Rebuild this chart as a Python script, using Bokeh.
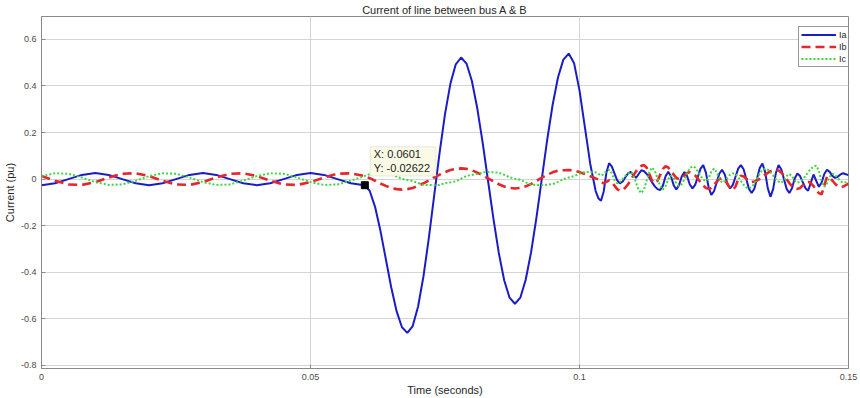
from bokeh.plotting import figure
from bokeh.models import (Range1d, FixedTicker, CustomJSTickFormatter, Legend,
                          LegendItem, BoxAnnotation, Label)
from bokeh.embed import file_html
from bokeh.resources import INLINE

# ---------------- data ----------------
# pre-fault: t = 0 .. 0.0575 s, step 0.0025 s
ia_pre = [-0.026, -0.018, 0.0, 0.018, 0.026, 0.018, 0.0, -0.018,
          -0.026, -0.018, 0.0, 0.018, 0.026, 0.018, 0.0, -0.018,
          -0.026, -0.018, 0.0, 0.018, 0.026, 0.018, 0.0, -0.018]
ib_pre = [0.013, -0.007, -0.023, -0.025, -0.013, 0.007, 0.023, 0.025,
          0.013, -0.007, -0.023, -0.025, -0.013, 0.007, 0.023, 0.025,
          0.013, -0.007, -0.023, -0.025, -0.013, 0.007, 0.023, 0.025]
ic_pre = [0.013, 0.025, 0.023, 0.007, -0.013, -0.025, -0.023, -0.007,
          0.013, 0.025, 0.023, 0.007, -0.013, -0.025, -0.023, -0.007,
          0.013, 0.025, 0.023, 0.007, -0.013, -0.025, -0.023, -0.007]

# fault: t = 0.060 .. 0.103 s, step 0.001 s
ia_fault = [-0.026, -0.050, -0.119, -0.222, -0.343, -0.464, -0.567, -0.636, -0.660, -0.631,
            -0.547, -0.417, -0.252, -0.069, 0.114, 0.279, 0.409, 0.493, 0.522, 0.496,
            0.421, 0.304, 0.157, -0.007, -0.170, -0.317, -0.434, -0.509, -0.535, -0.509,
            -0.432, -0.314, -0.165, 0.002, 0.169, 0.318, 0.436, 0.513, 0.539, 0.497,
            0.381, 0.223, 0.065, -0.051]
ib_fault = [0.013, 0.004, -0.007, -0.019, -0.029, -0.038, -0.043, -0.045, -0.043, -0.038,
            -0.029, -0.018, -0.006, 0.007, 0.019, 0.030, 0.039, 0.044, 0.046, 0.044,
            0.038, 0.028, 0.016, 0.003, -0.010, -0.022, -0.032, -0.038, -0.040, -0.038,
            -0.031, -0.021, -0.008, 0.006, 0.019, 0.029, 0.036, 0.038, 0.039, 0.036,
            0.030, 0.022, 0.012, 0.003]
ic_fault = [0.013, 0.021, 0.026, 0.025, 0.022, 0.020, 0.011, 0.001, -0.004, -0.008,
            -0.017, -0.025, -0.025, -0.026, -0.025, -0.017, -0.014, -0.010, 0.002, 0.014,
            0.018, 0.022, 0.029, 0.030, 0.029, 0.028, 0.018, 0.008, 0.002, -0.003,
            -0.014, -0.024, -0.025, -0.026, -0.024, -0.022, -0.012, 0.000, 0.007, 0.013,
            0.023, 0.031, 0.030, 0.029]

# post-fault: t = 0.1035 .. 0.150 s, step 0.0005 s
ia_post = [-0.082, -0.093, -0.053, 0.028, 0.068, 0.055, 0.025, -0.005, -0.018, -0.011,
           0.007, 0.024, 0.031, 0.018, 0.005, 0.022, 0.038, 0.034, 0.022, 0.005,
           -0.014, -0.031, -0.043, -0.047, -0.028, 0.012, 0.031, 0.012, -0.026, -0.045,
           -0.026, 0.011, 0.030, 0.013, -0.023, -0.040, -0.025, 0.010, 0.045, 0.060,
           0.028, -0.036, -0.068, -0.052, -0.014, 0.024, 0.040, 0.020, -0.020, -0.040,
           -0.025, 0.010, 0.045, 0.060, 0.042, 0.000, -0.042, -0.060, -0.041, 0.003,
           0.048, 0.067, 0.031, -0.040, -0.076, -0.042, 0.026, 0.060, 0.042, 0.000,
           -0.042, -0.060, -0.039, 0.003, 0.024, 0.013, -0.013, -0.039, -0.050, -0.015,
           0.020, -0.007, -0.033, -0.015, 0.022, 0.040, 0.031, 0.014, 0.005, 0.010,
           0.020, 0.025, 0.021, 0.017]
ib_post = [-0.002, -0.013, -0.018, -0.012, -0.005, -0.012, -0.028, -0.043, -0.050, -0.047,
           -0.037, -0.023, -0.005, 0.015, 0.033, 0.047, 0.057, 0.060, 0.049, 0.021,
           -0.007, -0.018, -0.007, 0.018, 0.044, 0.055, 0.050, 0.036, 0.019, 0.005,
           0.000, 0.004, 0.015, 0.026, 0.030, 0.026, 0.016, 0.002, -0.014, -0.028,
           -0.038, -0.042, -0.038, -0.026, -0.011, 0.000, 0.005, -0.003, -0.021, -0.039,
           -0.047, -0.032, 0.000, 0.015, 0.011, 0.002, -0.008, -0.012, -0.010, -0.006,
           0.001, 0.010, 0.019, 0.027, 0.034, 0.038, 0.040, 0.037, 0.028, 0.015,
           -0.001, -0.017, -0.030, -0.039, -0.042, -0.038, -0.027, -0.016, -0.012, -0.017,
           -0.030, -0.047, -0.060, -0.065, -0.028, 0.010, 0.006, -0.006, -0.020, -0.031,
           -0.035, -0.032, -0.026, -0.020]
ic_post = [0.022, 0.015, 0.021, 0.034, 0.040, 0.026, -0.004, -0.018, -0.013, -0.001,
           0.013, 0.025, 0.030, 0.017, -0.015, -0.047, -0.060, -0.044, -0.005, 0.034,
           0.050, 0.036, 0.003, -0.031, -0.045, -0.030, 0.000, 0.015, 0.004, -0.019,
           -0.030, -0.022, -0.001, 0.026, 0.047, 0.055, 0.049, 0.033, 0.014, -0.002,
           -0.008, 0.005, 0.032, 0.045, 0.030, 0.000, -0.015, -0.009, 0.005, 0.019,
           0.025, 0.021, 0.009, -0.008, -0.024, -0.036, -0.040, -0.034, -0.019, 0.003,
           0.024, 0.039, 0.045, 0.041, 0.030, 0.015, 0.000, -0.011, -0.015, -0.006,
           0.013, 0.022, 0.013, -0.006, -0.015, -0.011, -0.001, 0.013, 0.030, 0.044,
           0.054, 0.058, 0.035, -0.010, -0.033, -0.019, 0.010, 0.024, 0.018, 0.005,
           -0.009, -0.015, -0.013, -0.010]

# data tip
tip_x = 0.0601
tip_y = -0.02622

x_ticks = [0, 0.05, 0.1, 0.15]
y_ticks = [-0.8, -0.6, -0.4, -0.2, 0, 0.2, 0.4, 0.6]

# ---------------- sampling grids ----------------
t_pre = [round(i * 0.0025, 5) for i in range(len(ia_pre))]
t_fault = [round(0.060 + i * 0.001, 5) for i in range(len(ia_fault))]
t_post = [round(0.1035 + i * 0.0005, 5) for i in range(len(ia_post))]
t = t_pre + t_fault + t_post
ia = ia_pre + ia_fault + ia_post
ib = ib_pre + ib_fault + ib_post
ic = ic_pre + ic_fault + ic_post

FONT = "Liberation Sans"

p = figure(width=860, height=398,
           x_range=Range1d(0, 0.15), y_range=Range1d(-0.813, 0.698),
           output_backend="svg", toolbar_location=None,
           min_border_left=38, min_border_right=12,
           min_border_top=16, min_border_bottom=29)
p.background_fill_color = "white"
p.border_fill_color = "white"
p.outline_line_color = "#8a8a8a"
p.outline_line_width = 1

p.title.text = "Current of line between bus A & B"
p.title.align = "center"
p.title.text_font = FONT
p.title.text_font_size = "11px"
p.title.text_font_style = "normal"
p.title.text_color = "#262626"
p.title.standoff = 2

fmt = CustomJSTickFormatter(code="return Number(tick.toFixed(4)).toString();")
p.xaxis.ticker = FixedTicker(ticks=x_ticks)
p.yaxis.ticker = FixedTicker(ticks=y_ticks)
p.xaxis.formatter = fmt
p.yaxis.formatter = fmt
for ax in (p.xaxis, p.yaxis):
    ax.major_label_text_font = FONT
    ax.major_label_text_font_size = "9px"
    ax.major_label_text_color = "#4a4a4a"
    ax.axis_label_text_font = FONT
    ax.axis_label_text_font_size = "11px"
    ax.axis_label_text_font_style = "normal"
    ax.axis_label_text_color = "#262626"
    ax.axis_line_color = "#8a8a8a"
    ax.major_tick_line_color = "#8a8a8a"
    ax.major_tick_in = 4
    ax.major_tick_out = 0
    ax.minor_tick_line_color = None
p.xaxis.axis_label = "Time (seconds)"
p.yaxis.axis_label = "Current (pu)"
p.xaxis.major_label_standoff = 5
p.xaxis.axis_label_standoff = 1
p.yaxis.major_label_standoff = 5
p.yaxis.axis_label_standoff = 2

p.xgrid.grid_line_color = "#d4d4d4"
p.ygrid.grid_line_color = "#d4d4d4"

r_a = p.line(t, ia, line_color="#1c1cc4", line_width=2.0)
r_b = p.line(t, ib, line_color="#e6262b", line_width=2.6, line_dash="9 5")
r_c = p.line(t, ic, line_color="#3ed63e", line_width=2.0, line_dash="2 2")

p.scatter([tip_x], [tip_y], marker="square", size=7, color="black")

tip_box = BoxAnnotation(left=0.06108, right=0.07333, bottom=0.0133, top=0.1387,
                        fill_color="#fbfae6", fill_alpha=1.0,
                        line_color="#bcbcae", line_width=1)
p.add_layout(tip_box)
p.add_layout(Label(x=0.06176, y=0.080, text="X: " + str(tip_x), text_font=FONT,
                   text_font_size="11px", text_color="#1a1a1a"))
p.add_layout(Label(x=0.06176, y=0.022, text="Y: " + str(tip_y), text_font=FONT,
                   text_font_size="11px", text_color="#1a1a1a"))

legend = Legend(items=[LegendItem(label="Ia", renderers=[r_a]),
                       LegendItem(label="Ib", renderers=[r_b]),
                       LegendItem(label="Ic", renderers=[r_c])],
                location=(757, 301))
legend.label_text_font = FONT
legend.label_text_font_size = "9px"
legend.label_text_color = "#262626"
legend.glyph_width = 35
legend.glyph_height = 11
legend.label_height = 11
legend.label_standoff = 3
legend.spacing = 1
legend.padding = 2
legend.margin = 0
legend.border_line_color = "#333333"
legend.border_line_width = 1
legend.background_fill_color = "white"
legend.background_fill_alpha = 1.0
p.add_layout(legend)

open("out.html", "w").write(file_html(p, INLINE))
